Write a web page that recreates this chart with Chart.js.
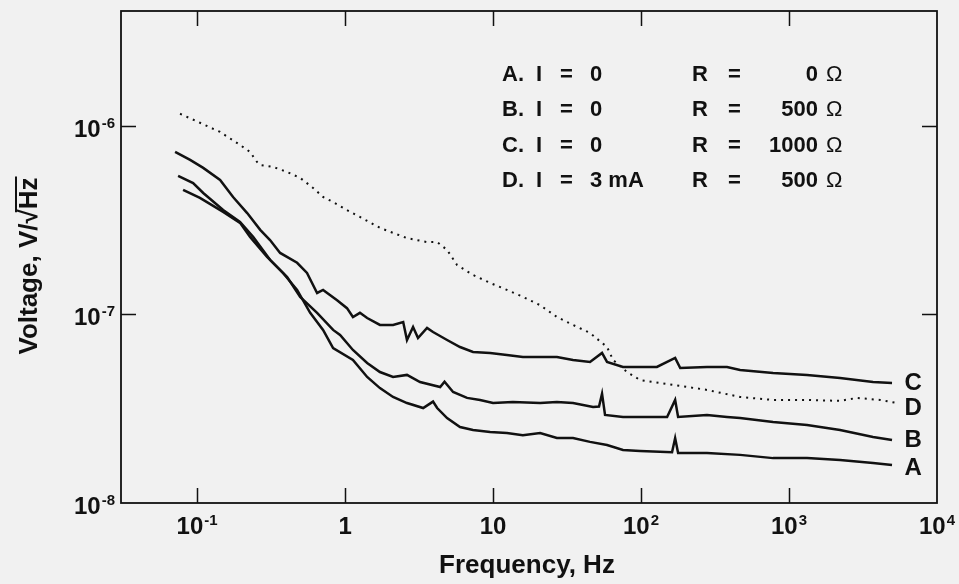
<!DOCTYPE html>
<html>
<head>
<meta charset="utf-8">
<script src="https://cdn.jsdelivr.net/npm/chart.js@4.4.1/dist/chart.umd.min.js"></script>
<style>
  html, body { margin: 0; padding: 0; background: #f1f1f1; }
  #wrap { width: 959px; height: 584px; }
</style>
</head>
<body>
<div id="wrap"><canvas id="chart" width="959" height="584"></canvas></div>
<script>
// Frequency (Hz) and noise voltage (V/sqrt(Hz))
const freqA = [0.0804, 0.1045, 0.150, 0.195, 0.228, 0.297, 0.381, 0.474, 0.581, 0.710, 0.830, 1.13, 1.41, 1.72, 2.11, 2.62, 3.37, 3.93, 4.19, 4.89, 5.98, 7.32, 9.55, 12.4, 15.9, 20.8, 27.0, 34.7, 45.2, 58.9, 75.5, 98.5, 162, 170, 178, 279, 467, 780, 1324, 2213, 3696, 4966];
const voltA = [4.58e-7, 4.15e-7, 3.50e-7, 3.06e-7, 2.58e-7, 2.02e-7, 1.66e-7, 1.35e-7, 1.02e-7, 8.28e-8, 6.64e-8, 5.74e-8, 4.66e-8, 4.07e-8, 3.65e-8, 3.39e-8, 3.19e-8, 3.45e-8, 3.19e-8, 2.82e-8, 2.53e-8, 2.44e-8, 2.38e-8, 2.35e-8, 2.29e-8, 2.35e-8, 2.21e-8, 2.21e-8, 2.11e-8, 2.03e-8, 1.91e-8, 1.89e-8, 1.86e-8, 2.21e-8, 1.84e-8, 1.84e-8, 1.80e-8, 1.73e-8, 1.73e-8, 1.69e-8, 1.63e-8, 1.59e-8];

const freqB = [0.0744, 0.0940, 0.110, 0.150, 0.195, 0.239, 0.311, 0.406, 0.497, 0.647, 0.830, 0.925, 1.13, 1.41, 1.72, 2.11, 2.62, 3.21, 4.39, 4.7, 5.37, 6.67, 8.17, 10.0, 13.6, 20.8, 27.0, 34.7, 47.4, 52.0, 54.5, 57.1, 75.5, 98.5, 150, 170, 178, 279, 381, 467, 780, 1324, 2213, 3696, 4966];
const voltB = [5.43e-7, 4.98e-7, 4.41e-7, 3.58e-7, 3.10e-7, 2.58e-7, 1.95e-7, 1.58e-7, 1.24e-7, 1.02e-7, 8.28e-8, 7.78e-8, 6.48e-8, 5.53e-8, 4.95e-8, 4.66e-8, 4.78e-8, 4.38e-8, 4.12e-8, 4.40e-8, 3.88e-8, 3.61e-8, 3.52e-8, 3.39e-8, 3.43e-8, 3.39e-8, 3.43e-8, 3.39e-8, 3.23e-8, 3.25e-8, 3.80e-8, 2.93e-8, 2.86e-8, 2.86e-8, 2.86e-8, 3.52e-8, 2.86e-8, 2.93e-8, 2.86e-8, 2.82e-8, 2.69e-8, 2.59e-8, 2.44e-8, 2.24e-8, 2.16e-8];

const freqC = [0.0710, 0.0897, 0.110, 0.143, 0.175, 0.218, 0.267, 0.311, 0.364, 0.474, 0.553, 0.647, 0.710, 0.883, 1.03, 1.13, 1.26, 1.41, 1.72, 2.11, 2.47, 2.62, 2.88, 3.11, 3.58, 3.93, 4.89, 5.98, 7.32, 9.55, 12.4, 15.9, 20.8, 27.0, 34.7, 45.2, 54.5, 58.9, 75.5, 98.5, 128, 170, 184, 279, 381, 467, 780, 1324, 2213, 3696, 4966];
const voltC = [7.28e-7, 6.60e-7, 5.99e-7, 5.17e-7, 4.20e-7, 3.45e-7, 2.81e-7, 2.48e-7, 2.12e-7, 1.88e-7, 1.66e-7, 1.30e-7, 1.35e-7, 1.19e-7, 1.08e-7, 9.70e-8, 1.02e-7, 9.58e-8, 8.80e-8, 8.80e-8, 9.12e-8, 7.32e-8, 8.58e-8, 7.50e-8, 8.48e-8, 8.07e-8, 7.32e-8, 6.72e-8, 6.33e-8, 6.25e-8, 6.10e-8, 5.95e-8, 5.95e-8, 5.95e-8, 5.74e-8, 5.60e-8, 6.25e-8, 5.60e-8, 5.27e-8, 5.27e-8, 5.27e-8, 5.88e-8, 5.20e-8, 5.27e-8, 5.27e-8, 5.08e-8, 4.89e-8, 4.78e-8, 4.60e-8, 4.38e-8, 4.33e-8];

const freqD = [0.0767, 0.1045, 0.143, 0.195, 0.228, 0.254, 0.267, 0.327, 0.406, 0.497, 0.608, 0.710, 0.830, 1.03, 1.26, 1.72, 2.62, 3.58, 4.19, 4.89, 5.71, 7.32, 9.55, 12.4, 15.9, 20.8, 27.0, 34.7, 45.2, 58.9, 64.7, 80.4, 98.5, 164, 279, 467, 780, 1324, 2213, 2880, 4120, 5370];
const voltD = [1.16e-6, 1.04e-6, 9.29e-7, 7.93e-7, 7.28e-7, 6.44e-7, 6.21e-7, 6.06e-7, 5.70e-7, 5.30e-7, 4.69e-7, 4.20e-7, 3.95e-7, 3.58e-7, 3.29e-7, 2.88e-7, 2.54e-7, 2.42e-7, 2.42e-7, 2.20e-7, 1.83e-7, 1.62e-7, 1.47e-7, 1.35e-7, 1.24e-7, 1.12e-7, 9.70e-8, 8.80e-8, 7.98e-8, 6.72e-8, 5.74e-8, 4.95e-8, 4.49e-8, 4.23e-8, 3.98e-8, 3.65e-8, 3.52e-8, 3.52e-8, 3.48e-8, 3.61e-8, 3.52e-8, 3.39e-8];

// axis decades and their labels (mantissa, exponent)
const xTicks = [0.1, 1, 10, 100, 1000, 10000];
const xTickLabels = [['10', '-1'], ['1', ''], ['10', ''], ['10', '2'], ['10', '3'], ['10', '4']];
const yTicks = [1e-6, 1e-7, 1e-8];
const yTickLabels = [['10', '-6'], ['10', '-7'], ['10', '-8']];

// curve end labels: [text, frequency, voltage]
const curveLabels = [['C', 6900, 4.3e-8], ['D', 6900, 3.19e-8], ['B', 6900, 2.16e-8], ['A', 6900, 1.53e-8]];

// condition table in the upper right
const legendRows = [
  ['A.', '0', '0'],
  ['B.', '0', '500'],
  ['C.', '0', '1000'],
  ['D.', '3 mA', '500']
];

const INK = '#111';
const toPoints = (xs, ys) => xs.map((x, i) => ({ x: x, y: ys[i] }));

function drawLabel(ctx, base, exp, x, y, align) {
  ctx.font = 'bold 24px "Liberation Sans", Arial, sans-serif';
  const w1 = ctx.measureText(base).width;
  ctx.font = 'bold 15px "Liberation Sans", Arial, sans-serif';
  const w2 = exp ? ctx.measureText(exp).width + 1 : 0;
  let left = align === 'right' ? x - w1 - w2 : x - (w1 + w2) / 2;
  ctx.textAlign = 'left';
  ctx.textBaseline = 'alphabetic';
  ctx.font = 'bold 24px "Liberation Sans", Arial, sans-serif';
  ctx.fillText(base, left, y);
  if (exp) {
    ctx.font = 'bold 15px "Liberation Sans", Arial, sans-serif';
    ctx.fillText(exp, left + w1 + 1, y - 9);
  }
}

const decorations = {
  id: 'decorations',
  afterDraw(chart) {
    const ctx = chart.ctx;
    const a = chart.chartArea;
    const xs = chart.scales.x, ys = chart.scales.y;
    ctx.save();
    ctx.strokeStyle = INK;
    ctx.fillStyle = INK;

    // frame
    ctx.lineWidth = 1.8;
    ctx.strokeRect(a.left, a.top, a.right - a.left, a.bottom - a.top);

    // inward ticks
    ctx.lineWidth = 1.5;
    ctx.beginPath();
    xTicks.forEach(v => {
      const px = Math.round(xs.getPixelForValue(v)) + 0.5;
      if (px > a.right - 2) return;
      ctx.moveTo(px, a.bottom); ctx.lineTo(px, a.bottom - 15);
      ctx.moveTo(px, a.top); ctx.lineTo(px, a.top + 15);
    });
    yTicks.forEach(v => {
      const py = Math.round(ys.getPixelForValue(v)) + 0.5;
      if (py > a.bottom - 2) return;
      ctx.moveTo(a.left, py); ctx.lineTo(a.left + 15, py);
      ctx.moveTo(a.right, py); ctx.lineTo(a.right - 15, py);
    });
    ctx.stroke();

    // tick labels
    xTicks.forEach((v, i) => {
      drawLabel(ctx, xTickLabels[i][0], xTickLabels[i][1], xs.getPixelForValue(v), a.bottom + 31, 'center');
    });
    yTicks.forEach((v, i) => {
      drawLabel(ctx, yTickLabels[i][0], yTickLabels[i][1], a.left - 6, ys.getPixelForValue(v) + 11, 'right');
    });

    // axis titles
    ctx.font = 'bold 26px "Liberation Sans", Arial, sans-serif';
    ctx.textAlign = 'center';
    ctx.fillText('Frequency, Hz', 527, 573);

    ctx.save();
    ctx.translate(37, 266);
    ctx.rotate(-Math.PI / 2);
    const head = 'Voltage, V/\u221A';
    const tail = 'Hz';
    const wh = ctx.measureText(head).width;
    const wt = ctx.measureText(tail).width;
    const start = -(wh + wt) / 2;
    ctx.textAlign = 'left';
    ctx.fillText(head, start, 0);
    ctx.fillText(tail, start + wh, 0);
    ctx.lineWidth = 2;
    ctx.beginPath();
    ctx.moveTo(start + wh - 3, -21);
    ctx.lineTo(start + wh + wt + 1, -21);
    ctx.stroke();
    ctx.restore();

    // curve labels
    ctx.font = 'bold 24px "Liberation Sans", Arial, sans-serif';
    ctx.textAlign = 'center';
    ctx.textBaseline = 'middle';
    curveLabels.forEach(([t, f, v]) => {
      ctx.fillText(t, xs.getPixelForValue(f), ys.getPixelForValue(v));
    });

    // condition table
    ctx.textBaseline = 'alphabetic';
    legendRows.forEach((r, i) => {
      const y = 81 + i * 35.3;
      ctx.font = 'bold 22px "Liberation Sans", Arial, sans-serif';
      ctx.textAlign = 'left';
      ctx.fillText(r[0], 502, y);
      ctx.fillText('I', 536, y);
      ctx.fillText('=', 560, y);
      ctx.fillText(r[1], 590, y);
      ctx.fillText('R', 692, y);
      ctx.fillText('=', 728, y);
      ctx.textAlign = 'right';
      ctx.fillText(r[2], 818, y);
      ctx.textAlign = 'left';
      ctx.font = '22px "Liberation Sans", Arial, sans-serif';
      ctx.fillText('\u03A9', 826, y);
    });
    ctx.restore();
  }
};

const solid = { borderColor: INK, borderWidth: 2.5, pointRadius: 0, tension: 0, fill: false };

new Chart(document.getElementById('chart').getContext('2d'), {
  type: 'line',
  data: {
    datasets: [
      Object.assign({ label: 'A', data: toPoints(freqA, voltA) }, solid),
      Object.assign({ label: 'B', data: toPoints(freqB, voltB) }, solid),
      Object.assign({ label: 'C', data: toPoints(freqC, voltC) }, solid),
      { label: 'D', data: toPoints(freqD, voltD), borderColor: INK, borderWidth: 2,
        borderDash: [2, 5], pointRadius: 0, tension: 0, fill: false }
    ]
  },
  options: {
    responsive: false,
    animation: false,
    devicePixelRatio: 1,
    layout: { padding: { left: 121, top: 11, right: 22, bottom: 81 } },
    plugins: { legend: { display: false }, tooltip: { enabled: false } },
    scales: {
      x: { type: 'logarithmic', display: false, min: 0.0306, max: 10000, bounds: 'data' },
      y: { type: 'logarithmic', display: false, min: 1e-8, max: 4.07e-6, bounds: 'data' }
    }
  },
  plugins: [decorations]
});
</script>
</body>
</html>
